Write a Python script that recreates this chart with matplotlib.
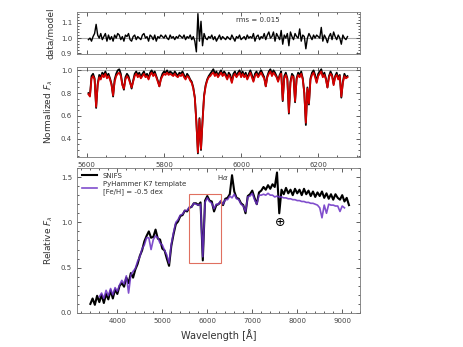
import numpy as np
import matplotlib
matplotlib.use('Agg')
import matplotlib.pyplot as plt
from matplotlib.patches import Rectangle
from matplotlib.ticker import AutoMinorLocator

# --- zoomed Na D region, 4 A sampling starting at 5604 A ---
zoom_start = 5604
zoom_step = 4

snifs_norm = [
    0.80, 0.78, 0.95, 0.97, 0.93, 0.67, 0.88, 0.96, 0.94, 0.98,
    0.96, 0.99, 0.95, 0.97, 0.93, 0.88, 0.77, 0.92, 0.97, 1.00,
    1.01, 0.97, 0.88, 0.83, 0.94, 0.97, 0.95, 0.90, 0.84, 0.91,
    0.97, 0.99, 0.96, 0.98, 0.94, 0.97, 0.99, 0.95, 0.97, 0.93,
    0.98, 1.00, 0.97, 0.99, 0.95, 0.91, 0.86, 0.93, 0.97, 0.99,
    0.98, 1.00, 0.97, 0.99, 0.98, 0.96, 0.99, 0.97, 0.95, 0.98,
    0.97, 0.99, 0.96, 0.93, 0.97, 0.95, 0.92, 0.90, 0.85, 0.76,
    0.55, 0.27, 0.58, 0.30, 0.56, 0.78, 0.87, 0.92, 0.95, 0.97,
    0.99, 1.01, 0.97, 0.99, 0.95, 0.98, 1.00, 0.96, 0.99, 0.97,
    0.93, 0.98, 0.96, 0.90, 0.97, 0.99, 0.95, 0.98, 1.00, 0.96,
    0.99, 0.95, 0.98, 0.93, 0.97, 1.00, 0.96, 0.91, 0.97, 0.99,
    0.95, 0.98, 1.00, 0.97, 0.94, 0.86, 0.95, 0.99, 1.01, 0.97,
    1.00, 0.98, 0.95, 0.91, 0.96, 0.99, 0.73, 0.95, 0.98, 0.93,
    0.62, 0.90, 0.97, 0.95, 0.72, 0.93, 0.98, 0.96, 0.99, 0.93,
    0.80, 0.52, 0.85, 0.70, 0.93, 0.98, 1.00, 0.96, 0.90, 0.97,
    0.99, 1.01, 0.95, 0.98, 0.93, 0.85, 0.95, 0.99, 0.96, 0.88,
    0.95, 0.98, 0.93, 0.96, 0.76, 0.90, 0.97, 0.94, 0.95,
]

model_norm = [
    0.79, 0.77, 0.93, 0.95, 0.92, 0.68, 0.87, 0.94, 0.92, 0.96,
    0.94, 0.97, 0.93, 0.95, 0.92, 0.87, 0.78, 0.90, 0.95, 0.97,
    0.98, 0.95, 0.87, 0.84, 0.92, 0.95, 0.93, 0.89, 0.85, 0.90,
    0.95, 0.97, 0.94, 0.96, 0.93, 0.95, 0.97, 0.94, 0.95, 0.92,
    0.96, 0.98, 0.95, 0.97, 0.94, 0.90, 0.86, 0.92, 0.95, 0.97,
    0.96, 0.98, 0.96, 0.97, 0.96, 0.95, 0.97, 0.95, 0.94, 0.96,
    0.95, 0.97, 0.94, 0.92, 0.95, 0.94, 0.91, 0.89, 0.84, 0.76,
    0.54, 0.28, 0.57, 0.31, 0.55, 0.77, 0.86, 0.91, 0.94, 0.95,
    0.97, 0.98, 0.95, 0.97, 0.94, 0.96, 0.98, 0.95, 0.97, 0.95,
    0.92, 0.96, 0.94, 0.89, 0.95, 0.97, 0.94, 0.96, 0.98, 0.94,
    0.97, 0.94, 0.96, 0.92, 0.95, 0.98, 0.94, 0.90, 0.95, 0.97,
    0.94, 0.96, 0.98, 0.95, 0.93, 0.86, 0.94, 0.97, 0.99, 0.95,
    0.98, 0.96, 0.94, 0.90, 0.95, 0.97, 0.74, 0.93, 0.96, 0.92,
    0.63, 0.89, 0.95, 0.94, 0.73, 0.92, 0.96, 0.94, 0.97, 0.92,
    0.80, 0.54, 0.84, 0.71, 0.92, 0.96, 0.98, 0.94, 0.89, 0.95,
    0.97, 0.99, 0.94, 0.96, 0.92, 0.85, 0.94, 0.97, 0.95, 0.87,
    0.94, 0.96, 0.92, 0.95, 0.77, 0.89, 0.95, 0.93, 0.94,
]

ratio = [
    0.99, 1.00, 0.98, 1.01, 1.03, 1.09, 1.02, 1.00, 1.03, 0.99,
    1.01, 1.03, 0.98, 1.02, 0.99, 1.01, 0.98, 1.02, 1.00, 1.03,
    1.02, 0.99, 1.01, 0.98, 1.02, 1.01, 1.03, 0.99, 0.98, 1.01,
    1.02, 0.99, 1.01, 1.00, 0.99, 1.02, 1.03, 1.00, 1.01, 0.98,
    1.02, 1.01, 0.99, 1.02, 0.98, 1.01, 1.00, 1.02, 1.01, 1.00,
    1.02, 1.00, 0.99, 1.02, 1.00, 1.01, 0.99, 1.01, 1.00, 1.02,
    1.01, 1.00, 1.02, 0.99, 1.01, 1.00, 1.02, 0.99, 1.01, 0.98,
    0.91, 1.16, 0.98, 1.11, 0.95, 1.03, 1.00, 0.99, 1.01, 1.00,
    1.02, 0.99, 1.01, 0.98, 1.00, 1.02, 0.99, 1.01, 1.00, 0.99,
    1.01, 1.00, 0.99, 1.02, 1.00, 0.98, 1.01, 1.00, 1.02, 0.99,
    1.00, 1.01, 0.99, 1.02, 1.00, 1.01, 1.00, 1.03, 0.98, 1.01,
    1.02, 0.99, 1.01, 1.00, 1.03, 0.99, 1.02, 1.04, 1.00, 1.01,
    1.04, 0.98, 1.03, 1.01, 0.99, 1.05, 0.96, 1.02, 1.00, 1.03,
    0.95, 1.04, 1.01, 0.99, 1.03, 1.01, 1.00, 1.06, 0.98, 1.02,
    1.01, 0.93, 1.00, 1.03, 1.01, 0.99, 1.02, 1.00, 1.02, 1.01,
    1.00, 1.07, 0.98, 1.02, 1.00, 0.97, 1.01, 1.03, 0.99, 1.04,
    1.01, 0.99, 1.02, 1.00, 0.96, 1.02, 1.00, 0.99, 1.01,
]

# --- full spectrum, 50 A sampling ---
snifs_start = 3400
template_start = 3600
full_step = 50

snifs_flux = [
    0.10, 0.16, 0.09, 0.19, 0.12, 0.20, 0.11, 0.21, 0.15, 0.25,
    0.16, 0.26, 0.21, 0.30, 0.33, 0.29, 0.39, 0.33, 0.44, 0.39,
    0.48, 0.54, 0.63, 0.69, 0.79, 0.85, 0.90, 0.83, 0.84, 0.92,
    0.82, 0.81, 0.71, 0.69, 0.60, 0.52, 0.74, 0.87, 0.98, 1.01,
    1.07, 1.08, 1.13, 1.12, 1.16, 1.17, 1.21, 1.21, 1.19, 1.22,
    0.58, 1.24, 1.29, 1.24, 1.23, 1.12, 1.19, 1.20, 1.23, 1.19,
    1.26, 1.27, 1.31, 1.52, 1.34, 1.27, 1.26, 1.21, 1.19, 1.10,
    1.29, 1.31, 1.35, 1.27, 1.20, 1.33, 1.35, 1.39, 1.36, 1.41,
    1.37, 1.42, 1.39, 1.55, 1.10, 1.36, 1.31, 1.38, 1.32, 1.36,
    1.30, 1.37, 1.32, 1.36, 1.30, 1.37, 1.31, 1.35, 1.29, 1.34,
    1.28, 1.33, 1.29, 1.34, 1.27, 1.32, 1.26, 1.31, 1.25, 1.31,
    1.27, 1.25, 1.30, 1.23, 1.27, 1.19,
]

template_flux = [
    0.18, 0.22, 0.16, 0.25, 0.19, 0.27, 0.20, 0.28, 0.24, 0.31,
    0.36, 0.32, 0.41, 0.22, 0.42, 0.46, 0.49, 0.57, 0.62, 0.71,
    0.75, 0.83, 0.83, 0.70, 0.81, 0.85, 0.83, 0.77, 0.75, 0.69,
    0.64, 0.55, 0.76, 0.89, 1.00, 1.03, 1.08, 1.09, 1.13, 1.13,
    1.17, 1.17, 1.21, 1.20, 1.19, 1.20, 0.62, 1.22, 1.27, 1.23,
    1.21, 1.15, 1.20, 1.20, 1.24, 1.20, 1.25, 1.25, 1.29, 1.27,
    1.31, 1.26, 1.25, 1.20, 1.18, 1.12, 1.28, 1.29, 1.32, 1.25,
    1.20, 1.30, 1.30, 1.31, 1.30, 1.32, 1.30, 1.30, 1.28, 1.29,
    1.28, 1.28, 1.27, 1.27, 1.26, 1.26, 1.25, 1.25, 1.24, 1.24,
    1.23, 1.23, 1.22, 1.22, 1.21, 1.21, 1.20, 1.19, 1.16, 1.05,
    1.19, 1.10, 1.20, 1.19, 1.19, 1.18, 1.18, 1.12, 1.18, 1.16,
]

wave_zoom = zoom_start + zoom_step * np.arange(len(snifs_norm))
wave_snifs = snifs_start + full_step * np.arange(len(snifs_flux))
wave_tmpl = template_start + full_step * np.arange(len(template_flux))

purple = '#6a2fc4'
label_fs = 6.5
tick_fs = 5


def style_axis(ax):
    ax.tick_params(which='both', direction='in', top=True, right=True,
                   labelsize=tick_fs, colors='#444444', width=0.6)
    ax.tick_params(which='major', length=3)
    ax.tick_params(which='minor', length=1.5)
    ax.xaxis.set_minor_locator(AutoMinorLocator())
    ax.yaxis.set_minor_locator(AutoMinorLocator())
    for s in ax.spines.values():
        s.set_color('#777777')
        s.set_linewidth(0.6)


fig = plt.figure(figsize=(4.63, 3.47), dpi=100)
ax1 = fig.add_axes([0.166, 0.844, 0.612, 0.121])
ax2 = fig.add_axes([0.166, 0.548, 0.612, 0.259])
ax3 = fig.add_axes([0.166, 0.098, 0.612, 0.418])

# top: ratio
ax1.axhline(1.0, color='#aaaaaa', lw=0.8, zorder=1)
ax1.plot(wave_zoom, ratio, color='black', lw=1.0, zorder=2)
ax1.set_xlim(5574, 6309)
ax1.set_ylim(0.895, 1.17)
ax1.set_yticks([0.9, 1.0, 1.1])
ax1.set_xticks([5600, 5800, 6000, 6200])
ax1.set_xticklabels([])
ax1.set_ylabel('data/model', fontsize=label_fs, color='#333333')
ax1.text(6044, 1.12, 'rms = 0.015', fontsize=tick_fs, ha='center', va='center', color='#333333')
style_axis(ax1)

# middle: normalized
ax2.axhline(1.0, color='#aaaaaa', lw=0.8, zorder=1)
ax2.plot(wave_zoom, snifs_norm, color='black', lw=1.3, zorder=2)
ax2.plot(wave_zoom, model_norm, color='#d40000', lw=1.3, zorder=3)
ax2.set_xlim(5574, 6309)
ax2.set_ylim(0.24, 1.03)
ax2.set_yticks([0.4, 0.6, 0.8, 1.0])
ax2.set_xticks([5600, 5800, 6000, 6200])
ax2.set_ylabel(r'Normalized $F_\lambda$', fontsize=label_fs, color='#333333')
style_axis(ax2)

# bottom: full spectrum
ax3.plot(wave_snifs, snifs_flux, color='black', lw=1.5, label='SNIFS', zorder=2)
ax3.plot(wave_tmpl, template_flux, color=purple, lw=1.2, alpha=0.85,
         label='PyHammer K7 template\n[Fe/H] = -0.5 dex', zorder=3)
ax3.add_patch(Rectangle((5600, 0.55), 700, 0.76, fill=False, edgecolor='#e07060', lw=0.8, zorder=4))
ax3.text(6340, 1.5, r'H$\alpha$', fontsize=tick_fs, ha='center', va='center', color='#333333')
ax3.text(7610, 1.0, r'$\oplus$', fontsize=9, ha='center', va='center')
ax3.set_xlim(3100, 9400)
ax3.set_ylim(0.0, 1.6)
ax3.set_yticks([0.0, 0.5, 1.0, 1.5])
ax3.set_xticks([4000, 5000, 6000, 7000, 8000, 9000])
ax3.set_xlabel('Wavelength [Å]', fontsize=label_fs + 0.5, color='#333333')
ax3.set_ylabel(r'Relative $F_\lambda$', fontsize=label_fs, color='#333333')
leg = ax3.legend(loc='upper left', fontsize=tick_fs, frameon=False,
                 handlelength=2.2, borderaxespad=0.3, labelspacing=0.3)
for t in leg.get_texts():
    t.set_color('#333333')
style_axis(ax3)

fig.savefig('out.png', dpi=100)
